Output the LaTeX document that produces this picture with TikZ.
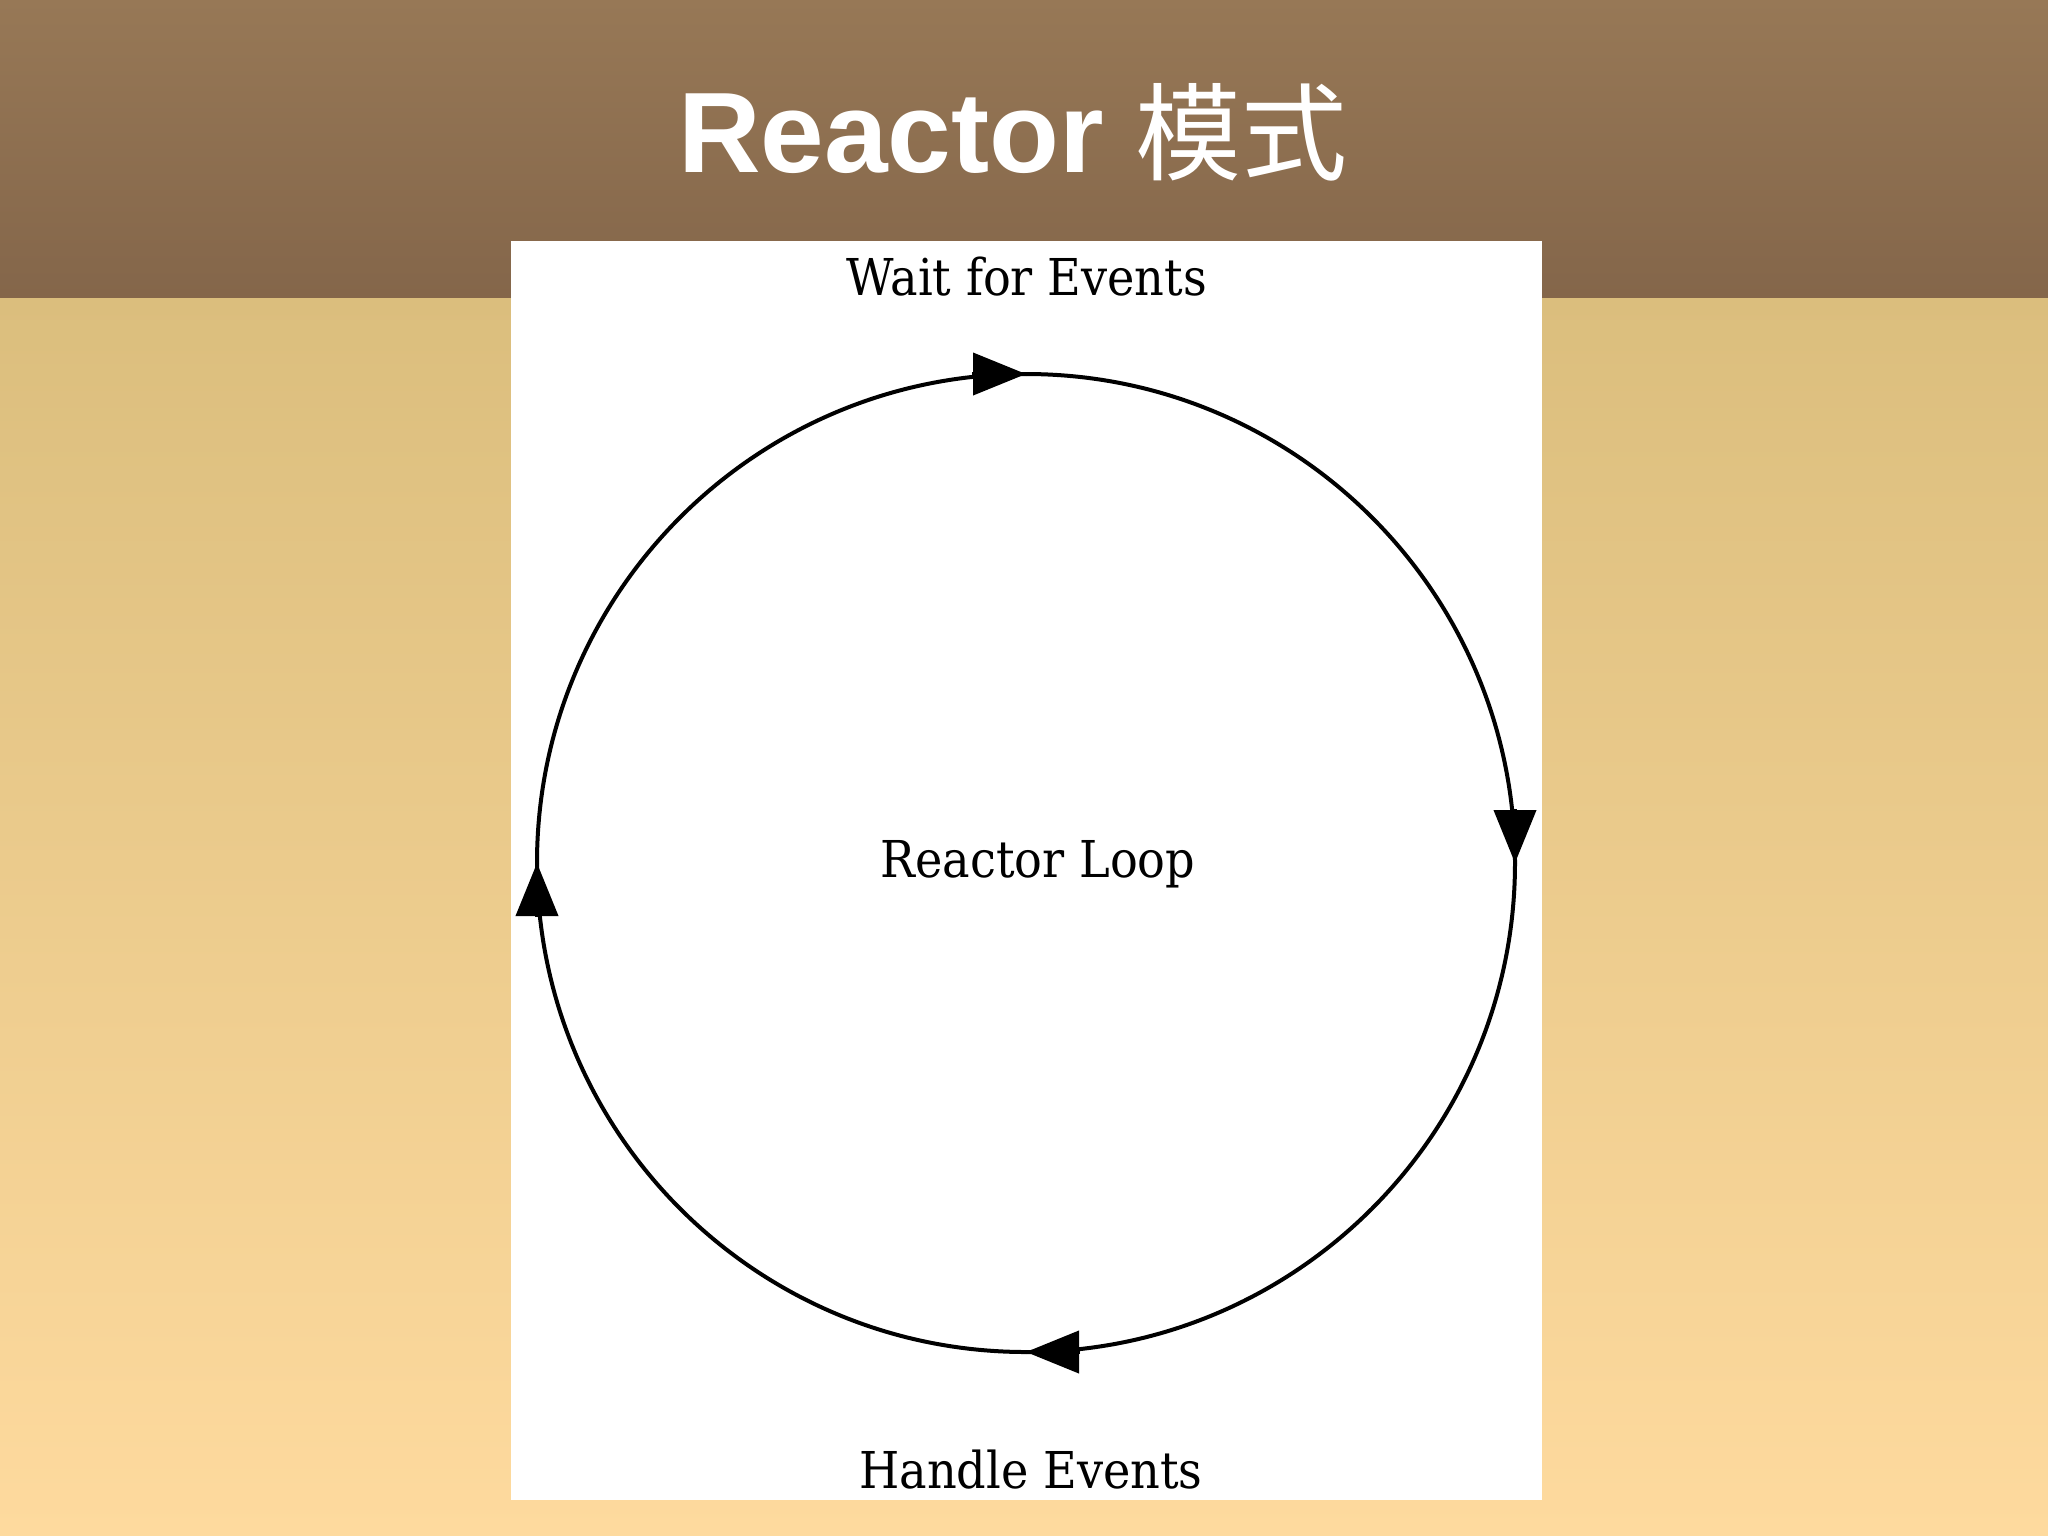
\documentclass[tikz,border=0pt]{standalone}
\usepackage{fontspec}
\usetikzlibrary{arrows.meta}
\newfontfamily\titlefont{Liberation Sans}
\newfontfamily\cjkfont{Noto Sans CJK SC}
\newfontfamily\loopfont{DejaVu Serif}[FakeStretch=0.91]
\definecolor{bannertop}{RGB}{151,120,86}
\definecolor{bannerbot}{RGB}{132,102,74}
\definecolor{sandtop}{RGB}{219,190,125}
\definecolor{sandbot}{RGB}{254,218,158}
\tikzset{every picture/.style={line width=1pt}}
\tikzset{
  looparrow/.style={-{Triangle[length=13.25pt,width=10.5pt]}},
  looplabel/.style={anchor=base,inner sep=0pt,font=\loopfont\fontsize{12.7pt}{15pt}\selectfont}
}

\begin{document}
\begin{tikzpicture}[x=0.25pt,y=0.25pt,yscale=-1,xscale=1]
\useasboundingbox (0,0) rectangle (2048,1535);

%Background
\shade [top color=sandtop,bottom color=sandbot] (0,297) rectangle (2048,1535);
\shade [top color=bannertop,bottom color=bannerbot] (0,0) rectangle (2048,297);
%White panel
\fill [white] (511,241) rectangle (1542,1500);

% Title
\node (title) at (1013,172) [anchor=base,inner sep=0pt,text=white]
  {\fontsize{28.6pt}{32pt}\selectfont\bfseries\titlefont Reactor {\cjkfont\mdseries\fontsize{26.5pt}{32pt}\selectfont 模式}};

%Points on the loop
\coordinate (ctr) at (1026,863);
\coordinate (ctop) at (1026,374);
\coordinate (cright) at (1515,863);
\coordinate (cbot) at (1026,1352);
\coordinate (cleft) at (537,863);

%Arcs
\draw (cleft) arc [start angle=180,end angle=270,radius=122.25pt];
\draw (ctop) arc [start angle=270,end angle=360,radius=122.25pt];
\draw (cright) arc [start angle=0,end angle=90,radius=122.25pt];
\draw (cbot) arc [start angle=90,end angle=180,radius=122.25pt];

%Arrow heads
\draw [looparrow] ([xshift=-13.5pt]ctop) -- (ctop);
\draw [looparrow] ([yshift=-13.5pt]cright) -- (cright);
\draw [looparrow] ([xshift=13.5pt]cbot) -- (cbot);
\draw [looparrow] ([yshift=13.5pt]cleft) -- (cleft);

% Text Node
\node (waitlbl) at (1027,295) [looplabel] {Wait for Events};
% Text Node
\node (looplbl) at (1038,877) [looplabel] {Reactor Loop};
% Text Node
\node (handlelbl) at (1031,1488) [looplabel] {Handle Events};
\end{tikzpicture}
\end{document}
